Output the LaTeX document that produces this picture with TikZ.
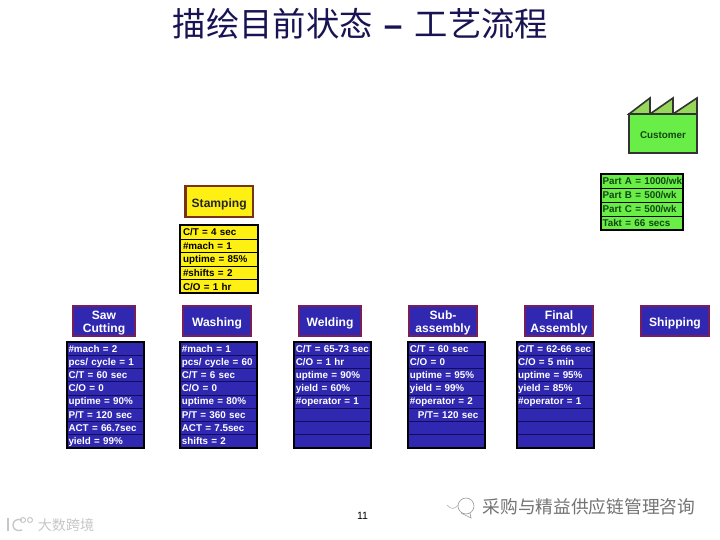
\documentclass[tikz,border=0pt]{standalone}
\usepackage{fontspec}
\setmainfont{Liberation Sans}
\newfontfamily\cjk{Noto Sans CJK SC}
\usepackage{tikz}
\usetikzlibrary{positioning}
\definecolor{procblue}{RGB}{48,40,176}
\definecolor{procedge}{RGB}{120,30,90}
\definecolor{rowline}{RGB}{16,14,90}
\definecolor{stampyellow}{RGB}{255,240,20}
\definecolor{stampedge}{RGB}{120,50,20}
\definecolor{custgreen}{RGB}{104,238,70}
\definecolor{roofgreen}{RGB}{150,214,90}
\definecolor{custtext}{RGB}{20,70,20}
\definecolor{titleblue}{RGB}{24,20,84}
\newcommand{\twolines}[2]{\raisebox{-3.5pt}[0pt][0pt]{\begin{tabular}[b]{@{}c@{}}#1\\#2\end{tabular}}}

\begin{document}
\begin{tikzpicture}[x=0.25mm, y=-0.25mm,
		% Process title boxes
		procbox/.style={
			draw=procedge,
			line width=0.55mm,
			fill=procblue,
			text=white,
			font=\fontsize{8.6}{9.6}\selectfont\bfseries,
			inner sep=0pt,
			minimum height=7.6mm,
			execute at begin node={\rule{0pt}{10pt}}
		},
		% Title boxes with two lines of text
		twoline/.style={
			procbox,
			execute at begin node={}
		},
		% One line of a data table
		datarow/.style={
			draw=rowline,
			line width=0.15mm,
			fill=procblue,
			text=white,
			font=\fontsize{7}{8}\selectfont\bfseries,
			anchor=west,
			inner xsep=0.3mm,
			inner ysep=0pt,
			minimum height=3.3mm,
			text height=5pt,
			text depth=0pt,
			text width=18.65mm
		},
		% Heavy frame round a data table
		tableframe/.style={
			draw=black,
			line width=0.55mm
		},
		yellowrow/.style={datarow, fill=stampyellow, text=black, draw=black, inner xsep=0.6mm, text width=18.2mm, minimum height=3.4mm},
		greenrow/.style={datarow, fill=custgreen, text=custtext, draw=black, text width=20mm, minimum height=3.46mm}
		]
		
		\useasboundingbox (0,0) rectangle (720,540);
		\fill[white] (0,0) rectangle (720,540);
		
		% --- Title ---
		\node[text=titleblue, font=\fontsize{23.7}{28}\selectfont\cjk] (title) at (360.5,24) {描绘目前状态\hspace{7.8pt}{\rmfamily\bfseries –}\hspace{8.8pt}工艺流程};
		
		% --- Customer ---
		\coordinate (roofA) at (629,114);
		\coordinate (roofB) at (650,98);
		\coordinate (roofC) at (673,98);
		\coordinate (roofD) at (697,98);
		\draw[line width=0.4mm, fill=roofgreen, draw=black!80]
		(roofA) -- (roofB) -- (650,114) -- (roofC) -- (673,114) -- (roofD) -- (697,114) -- cycle;
		\node[draw=black!80, line width=0.4mm, fill=custgreen, minimum width=17mm, minimum height=9.75mm, inner sep=0pt,
		text=custtext, font=\fontsize{7}{8}\selectfont\bfseries, text height=7pt] (customer) at (663,133.5) {Customer};
		\foreach \txt [count=\i] in {Part A = 1000/wk, Part B = 500/wk, Part C = 500/wk, Takt = 66 secs}
			\node[greenrow] (cust\i) at (601,{167.4+13.85*\i}) {\txt};
		\draw[tableframe] (601,174.3) rectangle (683.3,229.7);
		
		% --- Stamping ---
		\node[procbox, draw=stampedge, fill=stampyellow, text=black!85, minimum width=16.8mm] (stamping) at (219.2,201.5) {Stamping};
		\foreach \txt [count=\i] in {C/T = 4 sec, \#mach = 1, uptime = 85\%, \#shifts = 2, C/O = 1 hr}
			\node[yellowrow] (stamp\i) at (180.3,{218.5+13.6*\i}) {\txt};
		\draw[tableframe] (180.3,225.3) rectangle (258,293.3);
		
		% --- Process boxes ---
		\node[twoline, minimum width=15.5mm] (saw) at (104,321) {\twolines{Saw}{Cutting}};
		\node[procbox, minimum width=17mm] (washing) at (217,321) {Washing};
		\node[procbox, minimum width=15.5mm] (welding) at (330,321) {Welding};
		\node[twoline, minimum width=17mm] (subassembly) at (443,321) {\twolines{Sub-}{assembly}};
		\node[twoline, minimum width=17mm] (final) at (559,321) {\twolines{Final}{Assembly}};
		\node[procbox, minimum width=17mm] (shipping) at (675,321) {Shipping};
		
		% --- Data tables ---
		\foreach \txt [count=\i] in {\#mach = 2, pcs/ cycle = 1, C/T = 60 sec, C/O = 0, uptime = 90\%, P/T = 120 sec, ACT = 66.7sec, yield = 99\%}
			\node[datarow] (sawrow\i) at (67,{335.4+13.2*\i}) {\txt};
		\draw[tableframe] (67,342) rectangle (144,447.6);
		
		\foreach \txt [count=\i] in {\#mach = 1, pcs/ cycle = 60, C/T = 6 sec, C/O = 0, uptime = 80\%, P/T = 360 sec, ACT = 7.5sec, shifts = 2}
			\node[datarow] (washrow\i) at (180.3,{335.4+13.2*\i}) {\txt};
		\draw[tableframe] (180.3,342) rectangle (257.3,447.6);
		
		\foreach \txt [count=\i] in {C/T = 65-73 sec, C/O = 1 hr, uptime = 90\%, yield = 60\%, \#operator = 1, {}, {}, {}}
			\node[datarow] (weldrow\i) at (294.3,{335.4+13.2*\i}) {\txt};
		\draw[tableframe] (294.3,342) rectangle (371.3,447.6);
		
		\foreach \txt [count=\i] in {C/T = 60 sec, C/O = 0, uptime = 95\%, yield = 99\%, \#operator = 2, \hspace*{2mm}P/T= 120 sec, {}, {}}
			\node[datarow] (subrow\i) at (408.3,{335.4+13.2*\i}) {\txt};
		\draw[tableframe] (408.3,342) rectangle (485.3,447.6);
		
		\foreach \txt [count=\i] in {C/T = 62-66 sec, C/O = 5 min, uptime = 95\%, yield = 85\%, \#operator = 1, {}, {}, {}}
			\node[datarow] (finalrow\i) at (516.7,{335.4+13.2*\i}) {\txt};
		\draw[tableframe] (516.7,342) rectangle (593.7,447.6);
		
		% --- Page number and marks ---
		\node[font=\fontsize{7.5}{8}\selectfont] (pagenum) at (362.5,516) {11};
		\node[text=black!55, font=\fontsize{12.6}{14}\selectfont\cjk] (account) at (589,507) {采购与精益供应链管理咨询};
		\node[text=black!22, font=\fontsize{10}{12}\selectfont\cjk] (mark) at (66,525) {大数跨境};
		
		% Bubble beside the account name
		\draw[black!40, line width=0.15mm] (466,506) circle (8);
		\draw[black!40, line width=0.15mm] (461,513) -- (471,518) -- (470,513);
		\draw[black!30, line width=0.15mm] (447,505) .. controls (451,510) and (455,509) .. (458,505);
		
		% Logo at the lower left
		\draw[black!22, line width=0.35mm] (8,518) -- (8,531);
		\draw[black!22, line width=0.35mm] (22,520) .. controls (10,516) and (10,534) .. (22,530);
		\draw[black!22, line width=0.25mm] (23,520) circle (2.5);
		\draw[black!22, line width=0.25mm] (30,520) circle (2.5);
		
	\end{tikzpicture}
\end{document}
